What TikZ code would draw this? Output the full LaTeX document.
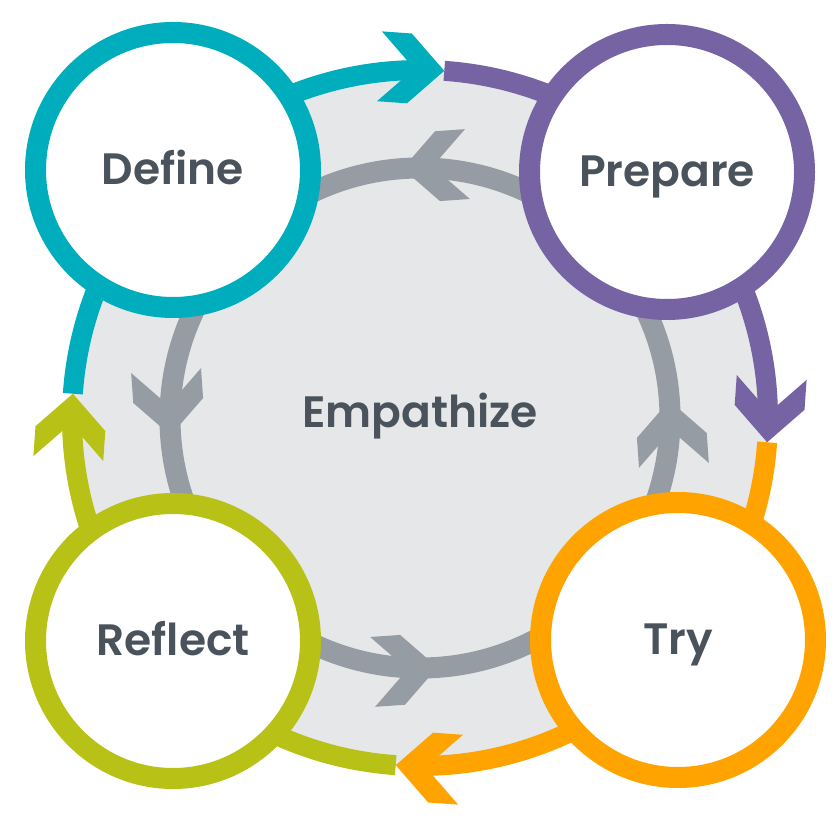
\documentclass[tikz,border=0pt]{standalone}
\usepackage{fontspec}
\setmainfont{Poppins}[BoldFont={Poppins SemiBold}]
\usepackage{tikz}
\usetikzlibrary{positioning}

\definecolor{stepteal}{RGB}{0,173,189}
\definecolor{steppurple}{RGB}{118,99,164}
\definecolor{steporange}{RGB}{255,163,0}
\definecolor{stepgreen}{RGB}{184,193,22}
\definecolor{ringgray}{RGB}{150,156,163}
\definecolor{diskgray}{RGB}{230,231,233}
\definecolor{labelgray}{RGB}{74,83,92}

\tikzset{
  pics/chevron/.style={code={
    \fill[#1] (0,0) -- (-.35,.35) -- (-.65,.35) -- (-.30,0) -- (-.65,-.35) -- (-.35,-.35) -- cycle;
  }},
  stage/.style={circle, draw=#1, fill=white, line width=0.21cm, minimum size=2.75cm, inner sep=0pt,
    text=labelgray, font=\fontsize{12.5}{15}\selectfont\bfseries, text height=0.3cm, text depth=0pt},
  outerarc/.style={draw=#1, line width=0.2cm},
}

\begin{document}
\begin{tikzpicture}
  \useasboundingbox (0,0) rectangle (8.4,8.4);
  \coordinate (hub) at (4.2,4.22);

  \begin{scope}[shift={(hub)}]
    \fill[diskgray] (0,0) circle (3.48);
    % inner loop
    \draw[ringgray, line width=0.21cm] (0,0) circle (2.5);
    \path (94:2.5) pic[rotate=184] {chevron=ringgray};
    \path (184:2.5) pic[rotate=274] {chevron=ringgray};
    \path (274:2.5) pic[rotate=4] {chevron=ringgray};
    \path (4:2.5) pic[rotate=94] {chevron=ringgray};
    % outer loop
    \draw[outerarc=stepgreen] (266:3.48) arc[start angle=266, end angle=179.5, radius=3.48];
    \draw[outerarc=stepteal] (176:3.48) arc[start angle=176, end angle=89.5, radius=3.48];
    \draw[outerarc=steppurple] (86:3.48) arc[start angle=86, end angle=-0.5, radius=3.48];
    \draw[outerarc=steporange] (-4:3.48) arc[start angle=-4, end angle=-90.5, radius=3.48];
    \path (86:3.48) pic[rotate=-4] {chevron=stepteal};
    \path (-4:3.48) pic[rotate=-94] {chevron=steppurple};
    \path (-94:3.48) pic[rotate=176] {chevron=steporange};
    \path (176:3.48) pic[rotate=86] {chevron=stepgreen};
  \end{scope}

  \node[stage=stepteal] (define) at (1.73,6.70) {Define};
  \node[stage=steppurple] (prepare) at (6.67,6.68) {Prepare};
  \node[stage=stepgreen] (reflect) at (1.73,1.99) {Reflect};
  \node[stage=steporange] (try) at (6.78,2.00) {Try};
  \node[text=labelgray, font=\fontsize{12.5}{15}\selectfont\bfseries, text height=0.3cm, text depth=0pt] (empathize) at (4.2,4.27) {Empathize};
\end{tikzpicture}
\end{document}
